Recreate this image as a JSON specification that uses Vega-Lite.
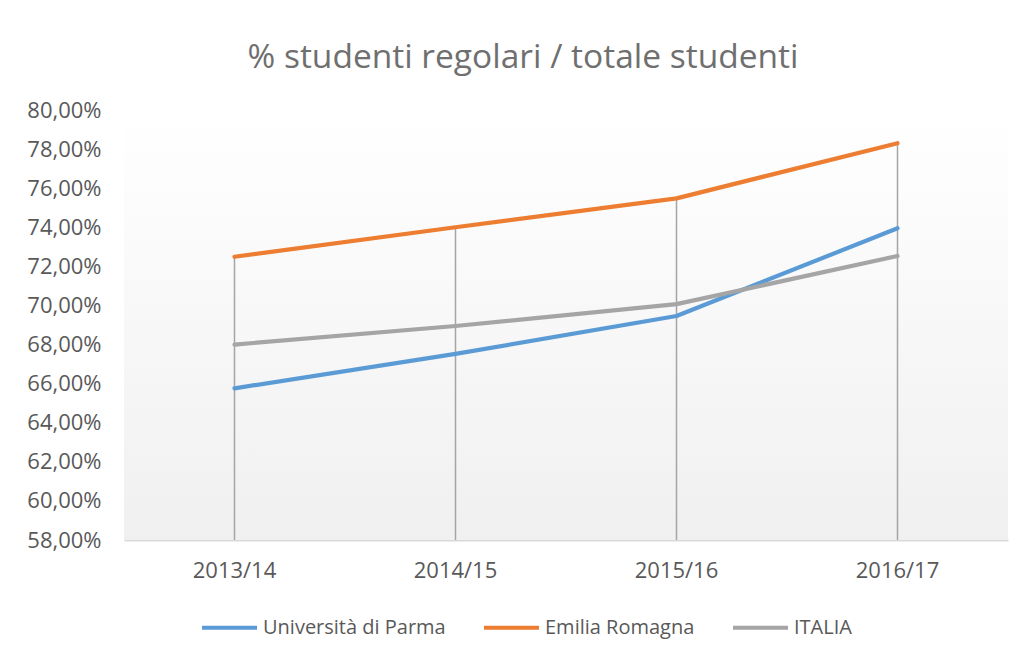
{
  "$schema": "https://vega.github.io/schema/vega-lite/v6.json",
  "width": 884,
  "height": 430,
  "padding": {"left": 26, "top": 40, "right": 18, "bottom": 10},
  "background": "white",
  "title": {
    "text": "% studenti regolari / totale studenti",
    "font": "Open Sans",
    "fontSize": 33.5,
    "fontWeight": "normal",
    "color": "#6f6f6f",
    "anchor": "middle",
    "dx": -43,
    "offset": 24
  },
  "data": {
    "values": [
      {"anno": "2013/14", "serie": "Università di Parma", "valore": 0.6576},
      {"anno": "2014/15", "serie": "Università di Parma", "valore": 0.6752},
      {"anno": "2015/16", "serie": "Università di Parma", "valore": 0.6946},
      {"anno": "2016/17", "serie": "Università di Parma", "valore": 0.7395},
      {"anno": "2013/14", "serie": "Emilia Romagna", "valore": 0.7249},
      {"anno": "2014/15", "serie": "Emilia Romagna", "valore": 0.7400},
      {"anno": "2015/16", "serie": "Emilia Romagna", "valore": 0.7548},
      {"anno": "2016/17", "serie": "Emilia Romagna", "valore": 0.7830},
      {"anno": "2013/14", "serie": "ITALIA", "valore": 0.6800},
      {"anno": "2014/15", "serie": "ITALIA", "valore": 0.6895},
      {"anno": "2015/16", "serie": "ITALIA", "valore": 0.7007},
      {"anno": "2016/17", "serie": "ITALIA", "valore": 0.7253}
    ]
  },
  "layer": [
    {
      "data": {"values": [{"a": 1}]},
      "mark": {
        "type": "rect",
        "fill": {
          "gradient": "linear",
          "x1": 0, "y1": 0, "x2": 0, "y2": 1,
          "stops": [
            {"offset": 0, "color": "#ffffff"},
            {"offset": 1, "color": "#f0f0f0"}
          ]
        }
      },
      "encoding": {
        "y": {"datum": 0.58, "type": "quantitative", "scale": {"domain": [0.58, 0.80], "nice": false, "zero": false}},
        "y2": {"datum": 0.80}
      }
    },
    {
      "transform": [{"filter": "datum.serie == 'Emilia Romagna'"}],
      "mark": {"type": "rule", "color": "#a5a5a5", "strokeWidth": 1.5},
      "encoding": {
        "x": {"field": "anno", "type": "ordinal"},
        "y": {"field": "valore", "type": "quantitative", "scale": {"domain": [0.58, 0.80], "nice": false, "zero": false}},
        "y2": {"datum": 0.58}
      }
    },
    {
      "mark": {"type": "line", "strokeWidth": 4.2, "strokeCap": "round", "strokeJoin": "round"},
      "encoding": {
        "x": {"field": "anno", "type": "ordinal"},
        "y": {"field": "valore", "type": "quantitative", "scale": {"domain": [0.58, 0.80], "nice": false, "zero": false}},
        "color": {
          "field": "serie",
          "type": "nominal",
          "sort": null,
          "scale": {
            "domain": ["Università di Parma", "Emilia Romagna", "ITALIA"],
            "range": ["#5b9bd5", "#ed7d31", "#a5a5a5"]
          },
          "legend": {
            "title": null,
            "orient": "none",
            "legendX": 76,
            "legendY": 488,
            "direction": "horizontal",
            "symbolType": "stroke",
            "symbolSize": 3025,
            "symbolStrokeWidth": 4,
            "labelFont": "Open Sans",
            "labelFontSize": 20,
            "labelColor": "#595959",
            "labelOffset": 4,
            "columnPadding": 30,
            "labelLimit": 400
          }
        }
      }
    }
  ],
  "resolve": {"scale": {"y": "shared", "x": "shared"}},
  "config": {
    "locale": {
      "number": {"decimal": ",", "thousands": ".", "grouping": [3], "currency": ["", " €"]}
    },
    "view": {"stroke": null},
    "scale": {"pointPadding": 0.5},
    "axisY": {
      "title": null,
      "values": [0.58, 0.60, 0.62, 0.64, 0.66, 0.68, 0.70, 0.72, 0.74, 0.76, 0.78, 0.80],
      "format": ".2%",
      "grid": false,
      "domain": false,
      "ticks": false,
      "tickSize": 0,
      "labelPadding": 23,
      "labelFont": "Open Sans",
      "labelFontSize": 22,
      "labelColor": "#595959"
    },
    "axisX": {
      "title": null,
      "labelAngle": 0,
      "grid": false,
      "ticks": false,
      "tickSize": 0,
      "domainColor": "#d9d9d9",
      "domainWidth": 2,
      "labelPadding": 20,
      "labelFont": "Open Sans",
      "labelFontSize": 22,
      "labelColor": "#595959"
    }
  }
}
